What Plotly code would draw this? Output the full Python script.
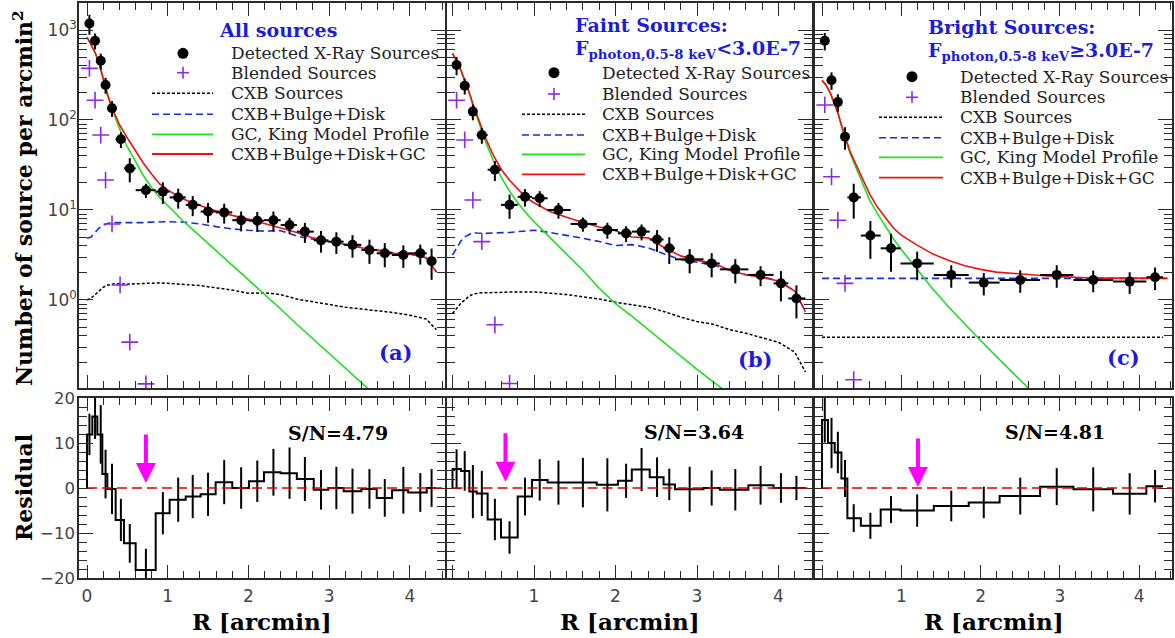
import numpy as np
import plotly.graph_objects as go

W, H = 1175, 638

# ---------------- Panel (a): all sources ----------------
r_a = [0.03, 0.10, 0.17, 0.23, 0.31, 0.42, 0.53, 0.73, 0.94, 1.13, 1.31, 1.50, 1.70,
       1.91, 2.11, 2.31, 2.51, 2.70, 2.90, 3.09, 3.29, 3.50, 3.69, 3.92, 4.13, 4.27]
edges_a = [0, 0.066, 0.128, 0.19, 0.252, 0.355, 0.458, 0.603, 0.851, 1.024, 1.223, 1.408,
           1.594, 1.80, 2.007, 2.193, 2.40, 2.60, 2.81, 2.99, 3.18, 3.40, 3.59, 3.78, 3.98,
           4.21, 4.32]
n_a = [1180, 760, 455, 245, 135, 61, 29, 16.6, 16, 13.8, 11.4, 9.6, 9.4, 7.7, 7.6, 7.7,
       6.8, 5.75, 4.6, 4.45, 4.1, 3.6, 3.3, 3.16, 3.3, 2.7]
frac_err_a = [0.25, 0.2, 0.2, 0.2, 0.2, 0.2, 0.3, 0.18, 0.27, 0.25, 0.25, 0.25, 0.25, 0.25,
              0.25, 0.25, 0.2, 0.25, 0.27, 0.27, 0.28, 0.3, 0.3, 0.28, 0.25, 0.38]
blend_r_a = [0.03, 0.10, 0.17, 0.23, 0.31, 0.41, 0.53, 0.73]
blend_n_a = [375, 166, 68, 21.5, 7.0, 1.47, 0.34, 0.117]
res_a = [11.9, 15.9, 11.9, 3.1, -0.2, -7.1, -12.3, -18.2, -5.6, -2.6, -1.9, -1.4, 1.3, 0.0,
         1.5, 3.5, 3.3, 2.0, -0.4, 0.0, -0.7, -0.2, -2.2, -0.5, -1.0, 0.0]
res_err_a = [4.6, 5.0, 6.5, 5.4, 5.6, 4.7, 4.3, 4.7, 4.7, 4.9, 4.8, 4.8, 4.9, 4.6, 4.6, 5.2,
             5.7, 4.9, 4.4, 4.7, 5.0, 4.4, 4.2, 5.2, 4.3, 4.2]

grid_a = [0.0, 0.05, 0.1, 0.15, 0.2, 0.25, 0.3, 0.35, 0.4, 0.5, 0.6, 0.7, 0.8, 0.9, 1.0, 1.2,
          1.4, 1.6, 1.8, 2.0, 2.2, 2.4, 2.6, 2.8, 3.0, 3.2, 3.4, 3.6, 3.8, 4.0, 4.2, 4.33]
log_tot_a = [2.92, 2.84, 2.75, 2.63, 2.46, 2.29, 2.16, 2.05, 1.95, 1.80, 1.66, 1.52, 1.40,
             1.29, 1.22, 1.12, 1.05, 0.99, 0.94, 0.90, 0.85, 0.80, 0.75, 0.69, 0.65, 0.62,
             0.58, 0.55, 0.52, 0.51, 0.47, 0.31]
log_bd_a = [0.685, 0.70, 0.75, 0.80, 0.83, 0.85, 0.86, 0.86, 0.855, 0.855, 0.855, 0.86, 0.865,
            0.87, 0.87, 0.865, 0.845, 0.815, 0.79, 0.775, 0.765, 0.77, 0.71, 0.675, 0.645,
            0.615, 0.585, 0.555, 0.525, 0.51, 0.47, 0.31]
log_cxb_a = [0.0, 0.02, 0.06, 0.10, 0.14, 0.165, 0.175, 0.18, 0.18, 0.175, 0.18, 0.185, 0.19,
             0.19, 0.185, 0.175, 0.16, 0.135, 0.11, 0.075, 0.08, 0.06, 0.01, -0.02, -0.05,
             -0.08, -0.10, -0.12, -0.14, -0.17, -0.21, -0.33]
king_r_a = [0.0, 0.05, 0.1, 0.15, 0.2, 0.25, 0.3, 0.35, 0.4, 0.5, 0.6, 0.7, 0.8, 0.9, 1.0,
            1.2, 1.4, 1.6, 1.8, 2.0, 2.2, 2.4, 2.6, 2.8, 3.0, 3.2, 3.4, 3.6]
log_king_a = [2.92, 2.84, 2.75, 2.63, 2.46, 2.29, 2.15, 2.03, 1.91, 1.70, 1.54, 1.38, 1.25,
              1.14, 1.05, 0.87, 0.71, 0.55, 0.39, 0.22, 0.06, -0.10, -0.27, -0.43, -0.59,
              -0.75, -0.91, -1.08]

# ---------------- Panel (b): faint sources ----------------
r_b = [0.05, 0.15, 0.25, 0.36, 0.52, 0.70, 0.89, 1.07, 1.30, 1.60, 1.90, 2.13, 2.32, 2.51,
       2.66, 2.91, 3.18, 3.47, 3.78, 4.03, 4.22]
edges_b = [0, 0.104, 0.207, 0.297, 0.431, 0.595, 0.80, 0.975, 1.167, 1.45, 1.77, 2.03, 2.20,
           2.42, 2.59, 2.73, 3.08, 3.28, 3.63, 3.94, 4.12, 4.33]
n_b = [408, 240, 124, 68, 28, 11.4, 14, 13.5, 10, 7.0, 6.0, 5.5, 5.75, 4.7, 3.75, 2.83,
       2.55, 2.19, 1.9, 1.53, 1.04]
frac_err_b = [0.23, 0.2, 0.2, 0.2, 0.25, 0.3, 0.22, 0.2, 0.2, 0.18, 0.2, 0.2, 0.2, 0.27,
              0.33, 0.3, 0.3, 0.3, 0.25, 0.37, 0.4]
blend_r_b = [0.05, 0.15, 0.25, 0.36, 0.52, 0.70]
blend_n_b = [166, 60, 12.9, 4.45, 0.53, 0.118]
res_b = [4.2, 3.8, -0.8, -1.2, -7.0, -11.0, -1.9, 1.8, 1.2, 1.2, 0.7, 1.6, 4.1, 2.4, 0.8,
         -0.3, 0.0, -0.4, 0.6, 0.0, 0.0]
res_err_b = [4.4, 4.4, 5.9, 5.0, 4.6, 3.6, 4.2, 4.6, 4.9, 5.5, 5.9, 3.8, 4.8, 4.4, 3.5, 5.0,
             3.9, 4.6, 4.3, 3.3, 2.7]

grid_b = grid_a
log_tot_b = [2.74, 2.66, 2.56, 2.45, 2.32, 2.18, 2.05, 1.92, 1.81, 1.61, 1.45, 1.33, 1.23,
             1.14, 1.08, 0.98, 0.92, 0.86, 0.81, 0.77, 0.70, 0.69, 0.58, 0.49, 0.44, 0.41,
             0.33, 0.28, 0.25, 0.21, 0.10, -0.13]
log_bd_b = [0.50, 0.58, 0.65, 0.70, 0.73, 0.75, 0.745, 0.74, 0.74, 0.745, 0.745, 0.75, 0.76,
            0.765, 0.775, 0.75, 0.72, 0.685, 0.65, 0.605, 0.615, 0.58, 0.51, 0.45, 0.42,
            0.39, 0.33, 0.28, 0.26, 0.21, 0.10, -0.13]
log_cxb_b = [-0.15, -0.09, -0.04, 0.0, 0.04, 0.065, 0.075, 0.08, 0.08, 0.08, 0.085, 0.09,
             0.09, 0.09, 0.09, 0.075, 0.06, 0.035, 0.01, -0.025, -0.05, -0.08, -0.13, -0.19,
             -0.24, -0.27, -0.33, -0.37, -0.42, -0.47, -0.58, -0.80]
king_r_b = [0.0, 0.05, 0.1, 0.15, 0.2, 0.25, 0.3, 0.35, 0.4, 0.5, 0.6, 0.7, 0.8, 0.9, 1.0,
            1.2, 1.4, 1.6, 1.8, 2.0, 2.2, 2.4, 2.6, 2.8, 3.0, 3.2, 3.4]
log_king_b = [2.74, 2.66, 2.56, 2.45, 2.32, 2.17, 2.03, 1.90, 1.77, 1.55, 1.36, 1.21, 1.08,
              0.97, 0.87, 0.69, 0.51, 0.33, 0.13, -0.04, -0.18, -0.33, -0.48, -0.62, -0.77,
              -0.91, -1.05]

# ---------------- Panel (c): bright sources ----------------
r_c = [0.035, 0.12, 0.20, 0.29, 0.40, 0.61, 0.87, 1.20, 1.63, 2.04, 2.50, 2.96, 3.42, 3.88, 4.20]
edges_c = [0, 0.075, 0.16, 0.245, 0.32, 0.49, 0.74, 0.99, 1.41, 1.85, 2.24, 2.75, 3.17, 3.67,
           4.09, 4.30]
n_c = [760, 277, 158, 65, 13.8, 5.2, 3.75, 2.55, 1.9, 1.56, 1.67, 1.9, 1.67, 1.6, 1.79]
frac_err_c = [0.22, 0.22, 0.22, 0.28, 0.42, 0.45, 0.45, 0.35, 0.28, 0.28, 0.28, 0.28, 0.27,
              0.27, 0.28]
blend_r_c = [0.035, 0.12, 0.20, 0.29, 0.40]
blend_n_c = [147, 23.4, 7.7, 1.53, 0.13]
res_c = [15.1, 10.0, 7.9, 2.1, -6.7, -8.4, -4.8, -5.0, -4.0, -3.2, -1.8, 0.3, -0.3, -1.3, 0.4]
res_err_c = [5.0, 5.6, 4.6, 4.1, 3.1, 2.9, 3.0, 3.6, 3.4, 3.5, 4.1, 4.1, 4.9, 4.6, 3.6]

grid_c = [0.0, 0.05, 0.1, 0.15, 0.2, 0.25, 0.3, 0.35, 0.4, 0.5, 0.6, 0.7, 0.8, 0.9, 1.0, 1.2,
          1.4, 1.6, 1.8, 2.0, 2.2, 2.4, 2.6, 2.8, 3.0, 3.2, 3.4, 3.6, 3.8, 4.0, 4.2, 4.36]
log_tot_c = [2.44, 2.39, 2.31, 2.19, 2.08, 1.93, 1.79, 1.66, 1.56, 1.36, 1.18, 1.03, 0.91,
             0.80, 0.72, 0.61, 0.51, 0.44, 0.38, 0.34, 0.31, 0.295, 0.28, 0.27, 0.26, 0.25,
             0.245, 0.243, 0.242, 0.241, 0.24, 0.24]
bd_r_c = [0.0, 4.33]
log_bd_c = [0.24, 0.24]
cxb_r_c = [0.0, 4.30]
log_cxb_c = [-0.415, -0.415]
king_r_c = [0.0, 0.05, 0.1, 0.15, 0.2, 0.25, 0.3, 0.35, 0.4, 0.5, 0.6, 0.7, 0.8, 0.9, 1.0,
            1.2, 1.4, 1.6, 1.8, 2.0, 2.2, 2.4, 2.6, 2.8]
log_king_c = [2.44, 2.39, 2.31, 2.19, 2.08, 1.92, 1.78, 1.64, 1.53, 1.31, 1.11, 0.96, 0.82,
              0.68, 0.56, 0.34, 0.12, -0.08, -0.27, -0.45, -0.63, -0.80, -0.98, -1.15]

# labels
legend_names = ["Detected X-Ray Sources", "Blended Sources", "CXB Sources",
                "CXB+Bulge+Disk", "GC, King Model Profile", "CXB+Bulge+Disk+GC"]
panel_labels = ["(a)", "(b)", "(c)"]
sn_labels = ["S/N=4.79", "S/N=3.64", "S/N=4.81"]
arrow_r = [0.73, 0.65, 1.21]
arrow_tip = [1.1, 1.4, 0.2]
ytick_vals_top = [1, 10, 100, 1000]
ytick_text_top = ["10<sup>0</sup>", "10<sup>1</sup>", "10<sup>2</sup>", "10<sup>3</sup>"]
ytick_vals_res = [-20, -10, 0, 10, 20]
xtick_vals = [0, 1, 2, 3, 4]

# ---------------- style / layout constants ----------------
BLUE_TXT = "#1c1cd8"
PURPLE = "#8a2be2"
GREEN = "#22dd22"
RED = "#ee1111"
DASHBLUE = "#1a2fd0"
SERIF = "DejaVu Serif"
SANS = "DejaVu Sans"
CXB_DASH = "3px,2px"
BD_DASH = "7px,4px"

cols = [dict(dom=(79, 445), zero=87.0, scale=80.7),
        dict(dom=(447, 812), zero=452.5, scale=81.5),
        dict(dom=(815, 1172), zero=822.0, scale=79.3)]
top_px = (3, 388)
bot_px = (398, 578)

# manual legend geometry (pixels): rows, text x, marker x, line x-span
legend_geo = [
    dict(rows=[53.3, 72.7, 93.3, 114.3, 134.3, 154.0], tx=230, mx=183, lx=(152, 213)),
    dict(rows=[72.7, 94.0, 114.3, 135.0, 154.3, 174.3], tx=601, mx=554, lx=(522, 585)),
    dict(rows=[76.7, 97.3, 117.3, 137.7, 157.3, 177.7], tx=959, mx=912, lx=(879, 943)),
]

panels = [
    dict(r=r_a, e=edges_a, n=n_a, f=frac_err_a, br=blend_r_a, bn=blend_n_a, res=res_a,
         rerr=res_err_a, tr=grid_a, tot=log_tot_a, bdr=grid_a, bd=log_bd_a, cr=grid_a,
         cxb=log_cxb_a, kr=king_r_a, king=log_king_a),
    dict(r=r_b, e=edges_b, n=n_b, f=frac_err_b, br=blend_r_b, bn=blend_n_b, res=res_b,
         rerr=res_err_b, tr=grid_b, tot=log_tot_b, bdr=grid_b, bd=log_bd_b, cr=grid_b,
         cxb=log_cxb_b, kr=king_r_b, king=log_king_b),
    dict(r=r_c, e=edges_c, n=n_c, f=frac_err_c, br=blend_r_c, bn=blend_n_c, res=res_c,
         rerr=res_err_c, tr=grid_c, tot=log_tot_c, bdr=bd_r_c, bd=log_bd_c, cr=cxb_r_c,
         cxb=log_cxb_c, kr=king_r_c, king=log_king_c),
]

fig = go.Figure()

def pw(v):
    return (10.0 ** np.asarray(v, dtype=float)).tolist()

for i, P in enumerate(panels):
    k = i + 1
    xt = "x" if k == 1 else f"x{k}"
    yt = "y" if k == 1 else f"y{k}"
    xb, yb = f"x{k+3}", f"y{k+3}"
    common = dict(xaxis=xt, yaxis=yt, showlegend=False, hoverinfo="skip")

    fig.add_trace(go.Scatter(x=P["cr"], y=pw(P["cxb"]), mode="lines", name=legend_names[2],
                             line=dict(color="black", width=1.5, dash=CXB_DASH), **common))
    fig.add_trace(go.Scatter(x=P["bdr"], y=pw(P["bd"]), mode="lines", name=legend_names[3],
                             line=dict(color=DASHBLUE, width=1.6, dash=BD_DASH), **common))
    fig.add_trace(go.Scatter(x=P["kr"], y=pw(P["king"]), mode="lines", name=legend_names[4],
                             line=dict(color=GREEN, width=1.6), **common))
    fig.add_trace(go.Scatter(x=P["tr"], y=pw(P["tot"]), mode="lines", name=legend_names[5],
                             line=dict(color=RED, width=1.6), **common))
    fig.add_trace(go.Scatter(x=P["br"], y=P["bn"], mode="markers", name=legend_names[1],
                             marker=dict(symbol="cross-thin", size=12, color=PURPLE,
                                         line=dict(color=PURPLE, width=1.6)), **common))
    r = np.array(P["r"]); e = np.array(P["e"]); n = np.array(P["n"]); f = np.array(P["f"])
    fig.add_trace(go.Scatter(x=P["r"], y=P["n"], mode="markers", name=legend_names[0],
                             marker=dict(symbol="circle", size=10, color="black"),
                             error_y=dict(type="data", array=(n * f).tolist(), color="black",
                                          thickness=2, width=0),
                             error_x=dict(type="data", array=(e[1:] - r).tolist(),
                                          arrayminus=(r - e[:-1]).tolist(), color="black",
                                          thickness=2, width=0), **common))

    # residual step histogram
    sx = [P["e"][0]] + list(P["e"])
    sy = [0.0] + list(P["res"]) + [P["res"][-1]]
    fig.add_trace(go.Scatter(x=sx, y=sy, mode="lines", line=dict(color="black", width=2,
                             shape="hv"), showlegend=False, xaxis=xb, yaxis=yb,
                             hoverinfo="skip"))
    fig.add_trace(go.Scatter(x=P["r"], y=P["res"], mode="markers",
                             marker=dict(size=1, color="black"),
                             error_y=dict(type="data", array=P["rerr"], color="black",
                                          thickness=2, width=0),
                             showlegend=False, xaxis=xb, yaxis=yb, hoverinfo="skip"))

# ---------------- axes ----------------
axis_line = dict(showline=True, linecolor="#2a2a2a", linewidth=1.6, mirror="ticks",
                 ticks="inside", tickcolor="#2a2a2a", tickwidth=1.4, showgrid=False,
                 zeroline=False, automargin=False)
tickfont = dict(family=SANS, size=17, color="#444")
lay = {}
for i, c in enumerate(cols):
    k = i + 1
    xr = [(c["dom"][0] - c["zero"]) / c["scale"], (c["dom"][1] - c["zero"]) / c["scale"]]
    xdom = [c["dom"][0] / W, c["dom"][1] / W]
    minor_x = dict(ticks="inside", ticklen=7, dtick=0.2, tickcolor="#2a2a2a", tickwidth=1.2)
    lay["xaxis" if k == 1 else f"xaxis{k}"] = dict(
        **axis_line, domain=xdom, range=xr, tickvals=xtick_vals, ticklen=13,
        showticklabels=False, minor=minor_x,
        anchor="y" if k == 1 else f"y{k}")
    lay[f"xaxis{k+3}"] = dict(
        **axis_line, domain=xdom, range=xr, tickvals=xtick_vals,
        ticktext=[("" if (v == 0 and k > 1) else str(v)) for v in xtick_vals],
        ticklen=13, showticklabels=True, tickfont=tickfont, minor=minor_x,
        anchor=f"y{k+3}", ticklabelstandoff=2)
    lay["yaxis" if k == 1 else f"yaxis{k}"] = dict(
        **axis_line, type="log", domain=[1 - top_px[1] / H, 1 - top_px[0] / H],
        range=[-0.978, 3.3], tickvals=ytick_vals_top, ticktext=ytick_text_top, ticklen=14,
        showticklabels=(k == 1), tickfont=tickfont,
        minor=dict(ticks="inside", ticklen=8, dtick="D1", tickcolor="#2a2a2a", tickwidth=1.2),
        anchor="x" if k == 1 else f"x{k}", ticklabelstandoff=-3)
    lay[f"yaxis{k+3}"] = dict(
        **axis_line, domain=[1 - bot_px[1] / H, 1 - bot_px[0] / H], range=[-20, 20],
        tickvals=ytick_vals_res, ticklen=14, showticklabels=(k == 1),
        tickfont=dict(family=SANS, size=16.5, color="#444"),
        minor=dict(ticks="inside", ticklen=8, dtick=2, tickcolor="#2a2a2a", tickwidth=1.2),
        anchor=f"x{k+3}", ticklabelstandoff=-1)

ann = []
shapes = []

def A(text, x, y, size, color="black", xanchor="center", angle=0, bold=True, family=SERIF):
    ann.append(dict(text=("<b>" + text + "</b>") if bold else text, x=x / W, y=1 - y / H,
                    xref="paper", yref="paper", showarrow=False, xanchor=xanchor,
                    yanchor="middle", textangle=angle, borderpad=0,
                    font=dict(family=family, size=size, color=color)))

# manual legends (one per upper panel)
for g in legend_geo:
    rows = g["rows"]
    for name, ry in zip(legend_names, rows):
        A(name, g["tx"], ry, 17, "#222", xanchor="left", bold=False)
    mx, my = g["mx"] / W, 1 - rows[0] / H
    shapes.append(dict(type="circle", xref="paper", yref="paper", xsizemode="pixel",
                       ysizemode="pixel", xanchor=mx, yanchor=my, x0=-5.5, x1=5.5,
                       y0=-5.5, y1=5.5, fillcolor="black", line=dict(width=0)))
    cy = 1 - rows[1] / H
    shapes.append(dict(type="line", xref="paper", yref="paper", xsizemode="pixel",
                       ysizemode="pixel", xanchor=mx, yanchor=cy, x0=-6, x1=6, y0=0, y1=0,
                       line=dict(color=PURPLE, width=1.6)))
    shapes.append(dict(type="line", xref="paper", yref="paper", xsizemode="pixel",
                       ysizemode="pixel", xanchor=mx, yanchor=cy, x0=0, x1=0, y0=-6, y1=6,
                       line=dict(color=PURPLE, width=1.6)))
    styles = [dict(color="black", width=1.5, dash=CXB_DASH),
              dict(color=DASHBLUE, width=1.6, dash=BD_DASH),
              dict(color=GREEN, width=1.8), dict(color=RED, width=1.8)]
    for st, ry in zip(styles, rows[2:]):
        shapes.append(dict(type="line", xref="paper", yref="paper", x0=g["lx"][0] / W,
                           x1=g["lx"][1] / W, y0=1 - ry / H, y1=1 - ry / H, line=st))

A("All sources", 278, 30, 19, BLUE_TXT)
A("Faint Sources:", 574, 25, 19, BLUE_TXT, xanchor="left")
A("F<sub>photon,0.5-8 keV</sub>&lt;3.0E-7", 574, 50, 19, BLUE_TXT, xanchor="left")
A("Bright Sources:", 927, 27, 19, BLUE_TXT, xanchor="left")
A("F<sub>photon,0.5-8 keV</sub>≥3.0E-7", 927, 52, 19, BLUE_TXT, xanchor="left")
for lbl, (px, py) in zip(panel_labels, [(396, 352), (755, 360), (1123, 357)]):
    A(lbl, px, py, 21, BLUE_TXT)
for lbl, (px, py) in zip(sn_labels, [(338, 433), (694, 432), (1055, 432)]):
    A(lbl, px, py, 19)
A("Number of source per arcmin<sup>2</sup>", 23, 198, 22, "black", angle=-90)
A("Residual", 24, 488, 22, "black", angle=-90)
for c in cols:
    A("R [arcmin]", (c["dom"][0] + c["dom"][1]) / 2, 621, 23)

for i in range(3):
    k = i + 1
    ann.append(dict(x=arrow_r[i], y=arrow_tip[i], xref=f"x{k+3}", yref=f"y{k+3}", ax=0,
                    ay=-50, axref="pixel", ayref="pixel", showarrow=True, arrowhead=2,
                    arrowsize=1.0, arrowwidth=4, arrowcolor="#ff00ff", text=""))

for i, c in enumerate(cols):
    k = i + 1
    shapes.append(dict(type="line", xref=f"x{k+3}", yref=f"y{k+3}", x0=0,
                       x1=(c["dom"][1] - c["zero"]) / c["scale"], y0=0, y1=0,
                       line=dict(color="#e00000", width=1.6, dash="10px,5px")))

fig.update_layout(**lay, annotations=ann, shapes=shapes, width=W, height=H,
                  margin=dict(l=0, r=0, t=0, b=0, autoexpand=False), paper_bgcolor="white",
                  plot_bgcolor="white", showlegend=False)

fig.write_html("out.html", config={"displayModeBar": False},
               post_script="document.body.style.margin='0px';")
